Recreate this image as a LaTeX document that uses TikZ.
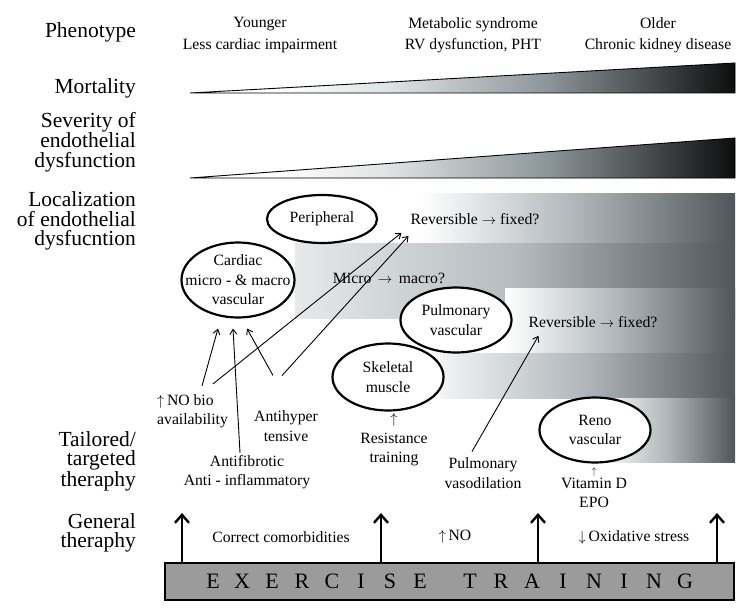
\documentclass[tikz,border=0pt]{standalone}
\usepackage{fontspec}
\setmainfont{Liberation Serif}
\usetikzlibrary{arrows.meta,shapes.geometric}
\definecolor{bdark}{HTML}{50575A}
\definecolor{bmidP}{HTML}{AEB6B9}
\definecolor{bmidC}{HTML}{B4BCBF}
\definecolor{bleftC}{HTML}{E6E9EA}
\definecolor{bleftS}{HTML}{F2F4F4}
\definecolor{wmid}{HTML}{8B9497}
\definecolor{wlight}{HTML}{E0E4E5}
\definecolor{wdark}{HTML}{0D0D0D}
\definecolor{boxgray}{HTML}{9B9B9B}
\pgfdeclarehorizontalshading{wedgeshade}{100bp}{color(0bp)=(white); color(33bp)=(white); color(43bp)=(wlight); color(58bp)=(wmid); color(75bp)=(wdark); color(100bp)=(wdark)}
\newcommand{\ua}{$\uparrow$}
\newcommand{\da}{$\downarrow$}
\newcommand{\ra}{$\rightarrow$}
\begin{document}
\begin{tikzpicture}[x=1pt,y=-1pt,
  lab/.style={font=\fontsize{21.5}{19.5}\selectfont, align=right, anchor=east, inner sep=0pt},
  txt/.style={font=\fontsize{15.7}{19.5}\selectfont, align=center, inner sep=0pt},
  ell/.style={ellipse, draw, line width=2.2pt, fill=white, inner sep=0pt},
  arr/.style={-{Straight Barb[length=5pt,width=7pt]}, line width=0.9pt},
  big/.style={-{Straight Barb[length=8pt,width=14pt]}, line width=2.4pt},
  wedgebox/.style={draw, line width=0.9pt, shade, shading=wedgeshade},
  letter/.style={font=\fontsize{22}{22}\selectfont, inner sep=0pt}]
\useasboundingbox (0,0) rectangle (749,615);

% gradient bands
\shade[left color=white, right color=bdark, middle color=bmidP] (420,193) rectangle (735,243);
\shade[left color=bleftC, right color=bdark, middle color=bmidC] (295,243) rectangle (735,318);
\shade[left color=white, right color=bdark, middle color=bmidP] (505,288) rectangle (735,353);
\shade[left color=bleftS, right color=bdark, middle color=bmidP] (440,353) rectangle (735,398);
\shade[left color=white, right color=bdark, middle color=bmidP] (600,398) rectangle (735,462);

% wedges
\path[wedgebox] (190,93) -- (735,63) -- (735,93) -- cycle;
\path[wedgebox] (190,178) -- (735,138) -- (735,178) -- cycle;

% left labels
\node[lab] (lphen) at (136,32) {Phenotype};
\node[lab] (lmort) at (136,88) {Mortality};
\node[lab] (lsev) at (136,142) {Severity of\\endothelial\\dysfunction};
\node[lab] (lloc) at (136,221) {Localization\\of endothelial\\dysfucntion};
\node[lab] (ltail) at (136,461) {Tailored/\\targeted\\theraphy};
\node[lab] (lgen) at (136,533) {General\\theraphy};

% phenotype texts
\node[txt, font=\fontsize{15.7}{21.5}\selectfont] (ph1) at (260,35) {Younger\\Less cardiac impairment};
\node[txt, font=\fontsize{15.7}{21.5}\selectfont] (ph2) at (473,35) {Metabolic syndrome\\RV dysfunction, PHT};
\node[txt, font=\fontsize{15.7}{21.5}\selectfont] (ph3) at (658,35) {Older\\Chronic kidney disease};

% ellipses
\node[ell, minimum width=110pt, minimum height=48pt, label={[txt]center:Peripheral}] (periph) at (322,219) {};
\node[ell, minimum width=113pt, minimum height=75pt, label={[txt]center:{Cardiac\\micro - \& macro\\vascular}}] (cardiac) at (238,280) {};
\node[ell, minimum width=111pt, minimum height=65pt, label={[txt]center:{Pulmonary\\vascular}}] (pulm) at (456,320) {};
\node[ell, minimum width=111pt, minimum height=67pt, label={[txt]center:{Skeletal\\muscle}}] (skel) at (388,377) {};
\node[ell, minimum width=111pt, minimum height=65pt, label={[txt]center:{Reno\\vascular}}] (reno) at (595,430) {};

% texts
\node[txt] (rev1) at (475,219) {Reversible \ra\ fixed?};
\node[txt] (micro) at (389,278) {Micro \,\ra\,\ macro?};
\node[txt] (rev2) at (593,322) {Reversible \ra\ fixed?};
\node[txt, align=left, anchor=west] (nobio) at (157,411) {\ua\,NO bio\\availability};
\node[txt] (antihyper) at (286,426) {Antihyper\\tensive};
\node[txt] (antifib) at (247,472) {Antifibrotic\\Anti - inflammatory};
\node[txt] (resist) at (394,440) {\ua\\Resistance\\training};
\node[txt] (pv) at (483,473) {Pulmonary\\vasodilation};
\node[txt] (vitd) at (594,488) {{\fontsize{10}{10}\selectfont\ua}\\[-6pt]Vitamin D\\EPO};

% general therapy
\node[txt] (gen1) at (281,537) {Correct comorbidities};
\node[txt] (gen2) at (455,537) {\ua\,NO};
\node[txt] (gen3) at (634,537) {\da\,Oxidative stress};

% connectors
\draw[arr] ([xshift=45pt,yshift=8pt]nobio.north west) -- ([xshift=-20pt,yshift=-10pt]cardiac.south);
\draw[arr] ([xshift=56pt,yshift=10pt]nobio.north west) -- ([xshift=-9pt,yshift=-8pt]rev1.south west);
\draw[arr] ([xshift=-7pt,yshift=2pt]antifib.north) -- ([xshift=-5pt,yshift=-10pt]cardiac.south);
\draw[arr] ([xshift=-13pt,yshift=35pt]antihyper.north) -- ([xshift=9pt,yshift=-10pt]cardiac.south);
\draw[arr] ([xshift=-4pt,yshift=35pt]antihyper.north) -- ([xshift=-2pt,yshift=-11pt]rev1.south west);
\draw[arr] ([xshift=-11pt,yshift=6pt]pv.north) -- ([xshift=10pt,yshift=-8pt]rev2.south west);

% exercise box
\node[draw, line width=2pt, fill=boxgray, minimum width=569pt, minimum height=37pt, inner sep=0pt] (ex) at (449.5,581.5) {};
\foreach \ch/\xx [count=\i] in {E/213, X/242, E/272, R/302, C/332, I/361, S/390, E/420, T/470, R/501, A/532, I/563, N/594, I/624, N/654, G/685}
  \node[letter] (l\i) at (\xx,581.5) {\ch};

\coordinate (v1) at (182,513);
\coordinate (v2) at (381,513);
\coordinate (v3) at (538,513);
\coordinate (v4) at (717,513);
\foreach \v in {v1,v2,v3,v4}
  \draw[big] (\v |- ex.north) -- (\v);
\end{tikzpicture}
\end{document}
